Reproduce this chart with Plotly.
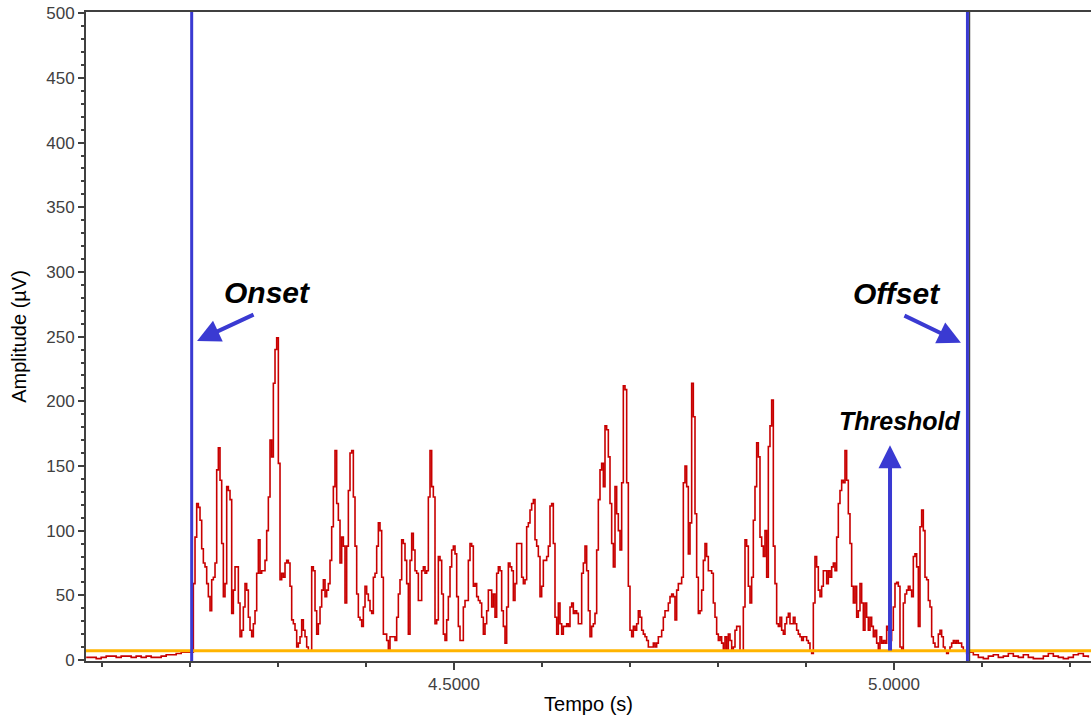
import numpy as np
import plotly.graph_objects as go

# ---------------- data ----------------
DT = 1 / 528            # sampling step of the rectified EMG (s)
PRE_START = 4.0820      # first baseline sample before onset (s)
ACT_START = 4.2038      # first sample of the active burst (s)
POST_START = 5.0845     # first baseline sample after offset (s)

ONSET_T = 4.2019        # onset marker (s)
OFFSET_T = 5.0835       # offset marker (s)
CURSOR_T = 5.0858       # thin cursor next to offset marker (s)
THRESHOLD = 7.2         # threshold level (µV)

# baseline before onset (sampled every 3*DT)
emg_pre = [2, 2, 1, 2, 3, 3, 2, 3, 3, 2, 3, 2, 3, 2, 2, 3, 4, 4, 5, 6, 6]

# active burst (sampled every DT), µV
emg_active = [
    59, 95, 121, 118, 108, 86, 75, 72, 59, 49, 38, 62, 64, 75, 147, 164, 139, 90, 49, 59,
    134, 131, 124, 36, 54, 72, 72, 44, 18, 23, 41, 59, 54, 33, 23, 18, 28, 38, 67, 93,
    67, 69, 69, 77, 100, 126, 170, 157, 214, 240, 249, 152, 62, 67, 64, 75, 77, 75, 57, 31,
    28, 23, 10, 13, 18, 31, 23, 18, 10,
    7, 7, 72, 69, 38, 20, 28, 41, 54, 62, 49, 54, 59, 77, 103, 134, 162, 121, 108, 75,
    95, 88, 44, 88, 131, 160, 162, 126, 88, 51, 33, 31, 26, 41, 57, 51, 46, 38, 36, 64,
    67, 88, 106, 100, 64, 20, 20, 15, 7, 18, 18, 18, 15, 33, 51, 62, 93, 90, 77, 59,
    20, 77, 98, 85, 69, 67, 46, 46, 69, 72, 67, 69, 126, 162, 134, 126, 28, 31, 80, 77,
    51, 20, 15, 31, 49, 72, 85, 88, 82, 49, 26, 15, 15, 41, 46, 46, 77, 90, 88, 57,
    59, 49, 46, 44, 33, 20, 28, 38, 54, 54, 41, 51, 33, 67, 72,
    69, 38, 26, 13, 41, 75, 72, 69, 46, 59, 90, 90, 90, 64, 59, 62, 103, 106, 116, 121, 124,
    93, 88, 80, 49, 57, 77, 77, 80, 88, 119, 121, 90, 33, 20, 44, 28, 20, 26, 26, 28,
    26, 41, 44, 36, 38, 36, 28, 28, 67, 75, 88, 69, 38, 18, 26, 28, 36, 85, 124, 147,
    152, 134, 181, 178, 157, 121, 90, 72, 134, 113, 100, 85, 137, 212, 209, 137, 57, 23, 18, 26,
    23, 28, 38, 33, 23, 20, 18, 15, 10, 10, 10, 13, 10, 13, 18, 18, 23, 33, 38, 38,
    44, 49, 51, 49, 31, 54, 59, 59, 64, 137, 150, 134, 82,
    106, 214, 188, 113, 64, 36, 38, 54, 77, 90, 80, 69, 69, 67, 44, 33, 20, 15, 18, 13,
    7, 18, 7, 20, 15, 7, 10, 23, 26, 26, 7, 7, 41, 93, 88, 57, 44, 64, 108, 134,
    168, 157, 95, 88, 80, 100, 64, 165, 181, 201, 88, 59, 28, 26, 33, 23, 20, 28, 33, 36,
    28, 28, 33, 28, 23, 20, 18, 15, 18, 18, 15, 13, 7, 5, 44, 80, 72, 54, 49, 57,
    69, 69, 59, 69, 64, 72, 75, 69, 95, 121, 131, 139, 137, 162, 139, 113, 90, 57, 44, 57,
    33, 38, 59, 44, 23, 44, 33, 23, 33, 26, 18, 23, 13, 7,
    18, 13, 15, 13, 26, 23, 15, 23, 41, 59, 60, 57, 10, 7, 44, 51, 54, 57, 54, 49, 80,
    82, 72, 26, 103, 116, 100, 64, 62, 46, 41, 18, 13, 10, 10, 20, 23, 18, 10, 7, 5,
    7, 10, 13, 15, 13, 15, 13, 13, 10, 7, 7, 5,
]

# baseline after offset (sampled every 3*DT)
emg_post = [6, 4, 2, 1, 3, 4, 2, 3, 5, 3, 2, 4, 2, 1, 1, 3, 5, 3, 2, 1, 2, 4, 5, 3, 2]

# x tick labels
x_tickvals = [4.5, 5.0]
x_ticktext = ["4.5000", "5.0000"]

# annotation anchors (data units)
ONSET_LABEL = (4.2875, 283.8)
ONSET_ARROW = ((4.2739, 267.6), (4.2080, 246.7))     # (tail, head)
OFFSET_LABEL = (5.0034, 283.0)
OFFSET_ARROW = ((5.0102, 266.8), (5.0761, 245.2))
THRESH_LABEL = (5.0068, 184.8)
THRESH_ARROW = ((4.9955, 6.2), (4.9955, 166.0))

# ---------------- styles ----------------
RED = "#c80000"
BLUE = "#3a3ad2"
ORANGE = "#ffb400"
AXIS = "#404040"

t_pre = PRE_START + np.arange(len(emg_pre)) * 3 * DT
t_act = ACT_START + np.arange(len(emg_active)) * DT
t_post = POST_START + np.arange(len(emg_post)) * 3 * DT

t_all = np.concatenate([t_pre, t_act, t_post])
v_all = np.concatenate([emg_pre, emg_active, emg_post])

fig = go.Figure()
fig.add_trace(go.Scatter(
    x=t_all, y=v_all, mode="lines",
    line=dict(color=RED, width=1.6, shape="hv"),
    hoverinfo="skip", showlegend=False,
))

# threshold line
fig.add_shape(type="line", xref="paper", x0=0, x1=1, yref="y", y0=THRESHOLD, y1=THRESHOLD,
              line=dict(color=ORANGE, width=3))
# onset / offset markers
fig.add_shape(type="line", xref="x", x0=CURSOR_T, x1=CURSOR_T, yref="paper", y0=0, y1=1,
              line=dict(color="#444444", width=1.5))
for tt in (ONSET_T, OFFSET_T):
    fig.add_shape(type="line", xref="x", x0=tt, x1=tt, yref="paper", y0=0, y1=1,
                  line=dict(color=BLUE, width=3))

label_font = dict(family="Liberation Sans, Arial, sans-serif", size=30, color="black")
annots = []
for (lx, ly), txt, size in [(ONSET_LABEL, "Onset", 30), (OFFSET_LABEL, "Offset", 30),
                            (THRESH_LABEL, "Threshold", 25)]:
    annots.append(dict(x=lx, y=ly, xref="x", yref="y", showarrow=False,
                       text=f"<b><i>{txt}</i></b>",
                       font=dict(label_font, size=size)))
for (tail, head) in [ONSET_ARROW, OFFSET_ARROW, THRESH_ARROW]:
    annots.append(dict(x=head[0], y=head[1], ax=tail[0], ay=tail[1],
                       xref="x", yref="y", axref="x", ayref="y",
                       text="", showarrow=True, arrowhead=2, arrowsize=1.15,
                       arrowwidth=4, arrowcolor=BLUE))

fig.update_layout(
    width=1091, height=715,
    margin=dict(l=86, r=0, t=12, b=54),
    paper_bgcolor="white", plot_bgcolor="white",
    font=dict(family="Liberation Sans, Arial, sans-serif"),
    annotations=annots,
    xaxis=dict(
        range=[4.0818, 5.2239],
        tickmode="array", tickvals=x_tickvals, ticktext=x_ticktext,
        ticks="outside", ticklen=7, tickwidth=1.5, tickcolor=AXIS,
        minor=dict(tickmode="linear", tick0=4.0, dtick=0.1, ticks="outside",
                   ticklen=4, tickwidth=1.5, tickcolor=AXIS),
        showline=True, linecolor=AXIS, linewidth=2, mirror=True,
        showgrid=False, zeroline=False,
        tickfont=dict(size=17, color=AXIS),
        title=dict(text="Tempo (s)", font=dict(size=20, color="black"), standoff=4),
    ),
    yaxis=dict(
        range=[-0.8, 501],
        tickmode="linear", tick0=0, dtick=50,
        ticks="outside", ticklen=6, tickwidth=1.5, tickcolor=AXIS,
        minor=dict(tickmode="linear", tick0=0, dtick=10, ticks="outside",
                   ticklen=3, tickwidth=1.5, tickcolor=AXIS),
        showline=True, linecolor=AXIS, linewidth=2,
        showgrid=False, zeroline=False,
        tickfont=dict(size=17, color=AXIS),
        title=dict(text="Amplitude (µV)", font=dict(size=20, color="black"), standoff=14),
    ),
)

fig.write_html("out.html")
